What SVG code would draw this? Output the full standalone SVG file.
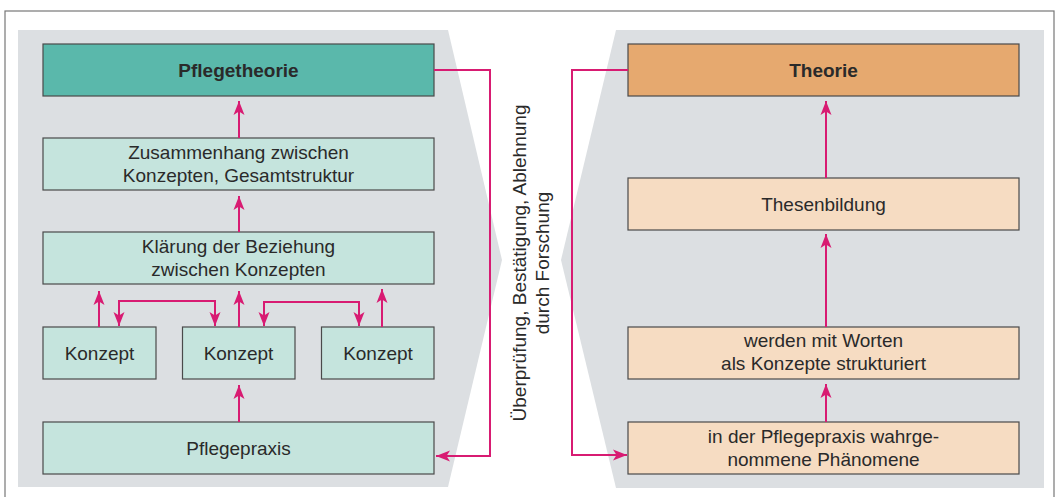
<svg xmlns="http://www.w3.org/2000/svg" width="1057" height="497" viewBox="0 0 1057 497">
<defs>
<marker id="ah" markerUnits="userSpaceOnUse" markerWidth="16" markerHeight="12" refX="14" refY="6" orient="auto-start-reverse" viewBox="0 0 16 12">
<path d="M0,0.5 L14,6 L0,11.5 L3.5,6 z" fill="#d81b72"/>
</marker>
<style>
.box{stroke:#4a4a4a;stroke-width:1.2}
.t1{fill:#5ab8ab}.t2{fill:#c5e4dd}.o1{fill:#e6a96f}.o2{fill:#f6dcc2}
text{font-family:"Liberation Sans",Arial,sans-serif;font-size:19px;fill:#2a2a2a;text-anchor:middle}
.b{font-weight:bold}
.c{fill:none;stroke:#d81b72;stroke-width:2}
</style>
</defs>
<rect x="0" y="0" width="1057" height="497" fill="#fff"/>
<rect x="5" y="11" width="1049" height="500" fill="none" stroke="#777" stroke-width="1.2"/>
<polygon points="18,30 448,30 502,260 448,487 18,487" fill="#dcdfe2"/>
<polygon points="616,30 1044,30 1044,488 616,488 561,260" fill="#dcdfe2"/>

<g id="pflegetheorie"><rect class="box t1" x="43" y="44" width="391" height="52"/><text class="b" x="238.5" y="77">Pflegetheorie</text></g>
<g id="zusammenhang"><rect class="box t2" x="43" y="138" width="391" height="52"/><text x="238.5" y="159">Zusammenhang zwischen</text><text x="238.5" y="182">Konzepten, Gesamtstruktur</text></g>
<g id="klaerung"><rect class="box t2" x="43" y="232" width="391" height="52"/><text x="238.5" y="253">Klärung der Beziehung</text><text x="238.5" y="276">zwischen Konzepten</text></g>
<g id="konzept1"><rect class="box t2" x="43" y="327" width="113" height="52"/><text x="99.5" y="359.5">Konzept</text></g>
<g id="konzept2"><rect class="box t2" x="182.5" y="327" width="112.5" height="52"/><text x="238.5" y="359.5">Konzept</text></g>
<g id="konzept3"><rect class="box t2" x="321.5" y="327" width="112.5" height="52"/><text x="378" y="359.5">Konzept</text></g>
<g id="pflegepraxis"><rect class="box t2" x="43" y="422" width="391" height="52"/><text x="238.5" y="454.5">Pflegepraxis</text></g>

<g id="theorie"><rect class="box o1" x="628" y="44" width="391" height="52"/><text class="b" x="823.5" y="77">Theorie</text></g>
<g id="thesenbildung"><rect class="box o2" x="628" y="178" width="391" height="52"/><text x="823.5" y="211">Thesenbildung</text></g>
<g id="werden"><rect class="box o2" x="628" y="327" width="391" height="52"/><text x="823.5" y="347">werden mit Worten</text><text x="823.5" y="370">als Konzepte strukturiert</text></g>
<g id="phaenomene"><rect class="box o2" x="628" y="422" width="391" height="52"/><text x="823.5" y="442.5">in der Pflegepraxis wahrge-</text><text x="823.5" y="465.5">nommene Phänomene</text></g>

<g id="label"><text transform="translate(526,263) rotate(-90)"><tspan x="0" y="0">Überprüfung, Bestätigung, Ablehnung</tspan><tspan x="0" y="23">durch Forschung</tspan></text></g>

<g id="connectors">
<path class="c" marker-end="url(#ah)" d="M239,138 V101"/>
<path class="c" marker-end="url(#ah)" d="M239,232 V196"/>
<path class="c" marker-end="url(#ah)" d="M99,327 V291"/>
<path class="c" marker-end="url(#ah)" d="M239,327 V291"/>
<path class="c" marker-end="url(#ah)" d="M382,327 V289"/>
<path class="c" marker-start="url(#ah)" marker-end="url(#ah)" d="M119,326 V301 H215 V326"/>
<path class="c" marker-start="url(#ah)" marker-end="url(#ah)" d="M264,326 V302 H359 V326"/>
<path class="c" marker-end="url(#ah)" d="M239,422 V385"/>
<path class="c" marker-end="url(#ah)" d="M434,70 H490 V456 H436"/>
<path class="c" marker-end="url(#ah)" d="M826,178 V101"/>
<path class="c" marker-end="url(#ah)" d="M826,327 V234"/>
<path class="c" marker-end="url(#ah)" d="M826,422 V384"/>
<path class="c" marker-end="url(#ah)" d="M628,70 H572 V455 H627"/>
</g>
</svg>
